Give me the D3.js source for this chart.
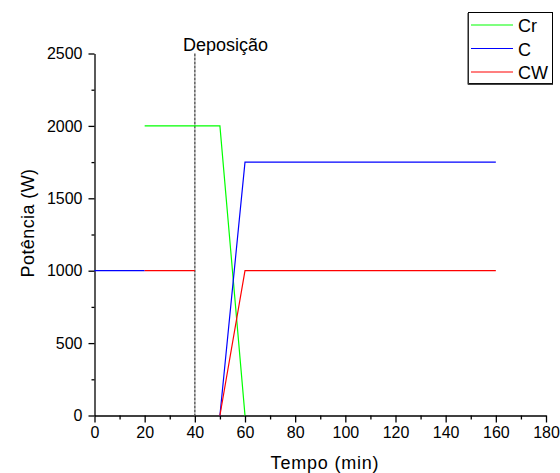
<!DOCTYPE html>
<html>
<head>
<meta charset="utf-8">
<script src="https://cdn.jsdelivr.net/npm/d3@7"></script>
<style>
  html, body { margin: 0; padding: 0; background: #fff; }
  svg { display: block; font-family: Arial, "Liberation Sans", sans-serif; }
</style>
</head>
<body>
<svg id="chart" width="560" height="473"></svg>
<script>
// Power profile of each target during the run
const seriesNames = ["Cr", "C", "CW"];
const seriesColors = ["#00ff00", "#0000ff", "#ff0000"];

const timeCr = [20, 50, 60];
const powerCr = [2000, 2000, 0];

const timeC = [0, 20, null, 50, 60, 160];
const powerC = [1000, 1000, null, 0, 1750, 1750];

const timeCW = [20, 40, null, 50, 60, 160];
const powerCW = [1000, 1000, null, 0, 1000, 1000];

const xTicks = [0, 20, 40, 60, 80, 100, 120, 140, 160, 180];
const yTicks = [0, 500, 1000, 1500, 2000, 2500];
const depositionTime = 40;
const depositionLabel = "Deposição";

const svg = d3.select("#chart");
const plotLeft = 94.5, plotRight = 546, plotTop = 53.5, plotBottom = 415.5;

const x = d3.scaleLinear().domain([0, 180]).range([plotLeft, plotRight]);
const y = d3.scaleLinear().domain([0, 2500]).range([plotBottom, plotTop]);

// minor ticks halfway between majors
const xMinor = d3.range(10, 180, 20);
const yMinor = d3.range(250, 2500, 500);

const gx = svg.append("g").attr("transform", `translate(0,${plotBottom})`);
gx.call(d3.axisBottom(x).tickValues(xTicks).tickFormat(d3.format("d"))
  .tickSize(7).tickSizeOuter(0).tickPadding(4));
gx.append("g").call(d3.axisBottom(x).tickValues(xMinor).tickSize(4).tickFormat(""))
  .select(".domain").remove();

const gy = svg.append("g").attr("transform", `translate(${plotLeft},0)`);
gy.call(d3.axisLeft(y).tickValues(yTicks).tickFormat(d3.format("d"))
  .tickSize(6).tickSizeOuter(0).tickPadding(6));
gy.append("g").call(d3.axisLeft(y).tickValues(yMinor).tickSize(3).tickFormat(""))
  .select(".domain").remove();

svg.selectAll(".tick text").attr("font-size", 16).attr("fill", "#000")
  .attr("font-family", "Arial, 'Liberation Sans', sans-serif");
svg.selectAll(".domain, .tick line").attr("stroke", "#000").attr("stroke-width", 1.3);

// axis titles
svg.append("text")
  .attr("x", 325).attr("y", 469)
  .attr("text-anchor", "middle").attr("font-size", 18)
  .attr("letter-spacing", 0.8)
  .text("Tempo (min)");
svg.append("text")
  .attr("transform", "translate(34,223) rotate(-90)")
  .attr("text-anchor", "middle").attr("font-size", 18)
  .attr("letter-spacing", 0.4)
  .text("Potência (W)");

// start of deposition marker
svg.append("line")
  .attr("x1", x(depositionTime)).attr("x2", x(depositionTime))
  .attr("y1", y(2500)).attr("y2", y(0))
  .attr("stroke", "#666").attr("stroke-width", 1.6)
  .attr("stroke-dasharray", "3,1");
svg.append("text")
  .attr("x", 183).attr("y", 50.5)
  .attr("font-size", 18).text(depositionLabel);

// series lines
const series = [
  { t: timeCr, p: powerCr },
  { t: timeC, p: powerC },
  { t: timeCW, p: powerCW }
];
const line = d3.line()
  .defined(d => d[0] !== null && d[1] !== null)
  .x(d => x(d[0])).y(d => y(d[1]));

series.forEach((s, i) => {
  const pts = s.t.map((t, k) => [t, s.p[k]]);
  svg.append("path")
    .attr("d", line(pts))
    .attr("fill", "none")
    .attr("stroke", seriesColors[i])
    .attr("stroke-width", 1.2);
});

// legend
const lg = svg.append("g");
lg.append("rect").attr("x", 468.5).attr("y", 12.5).attr("width", 84).attr("height", 71)
  .attr("fill", "#fff").attr("stroke", "#000").attr("stroke-width", 1);
lg.append("line").attr("x1", 468).attr("x2", 468).attr("y1", 13).attr("y2", 84.5)
  .attr("stroke", "#444").attr("stroke-width", 1.2);
lg.append("line").attr("x1", 468).attr("x2", 553).attr("y1", 84.3).attr("y2", 84.3)
  .attr("stroke", "#444").attr("stroke-width", 1.2);
seriesNames.forEach((name, i) => {
  const cy = 25 + i * 23.5;
  lg.append("line").attr("x1", 471).attr("x2", 513).attr("y1", cy).attr("y2", cy)
    .attr("stroke", seriesColors[i]).attr("stroke-width", 1.2);
  lg.append("text").attr("x", 518).attr("y", cy + 7)
    .attr("font-size", 18).text(name);
});
</script>
</body>
</html>
